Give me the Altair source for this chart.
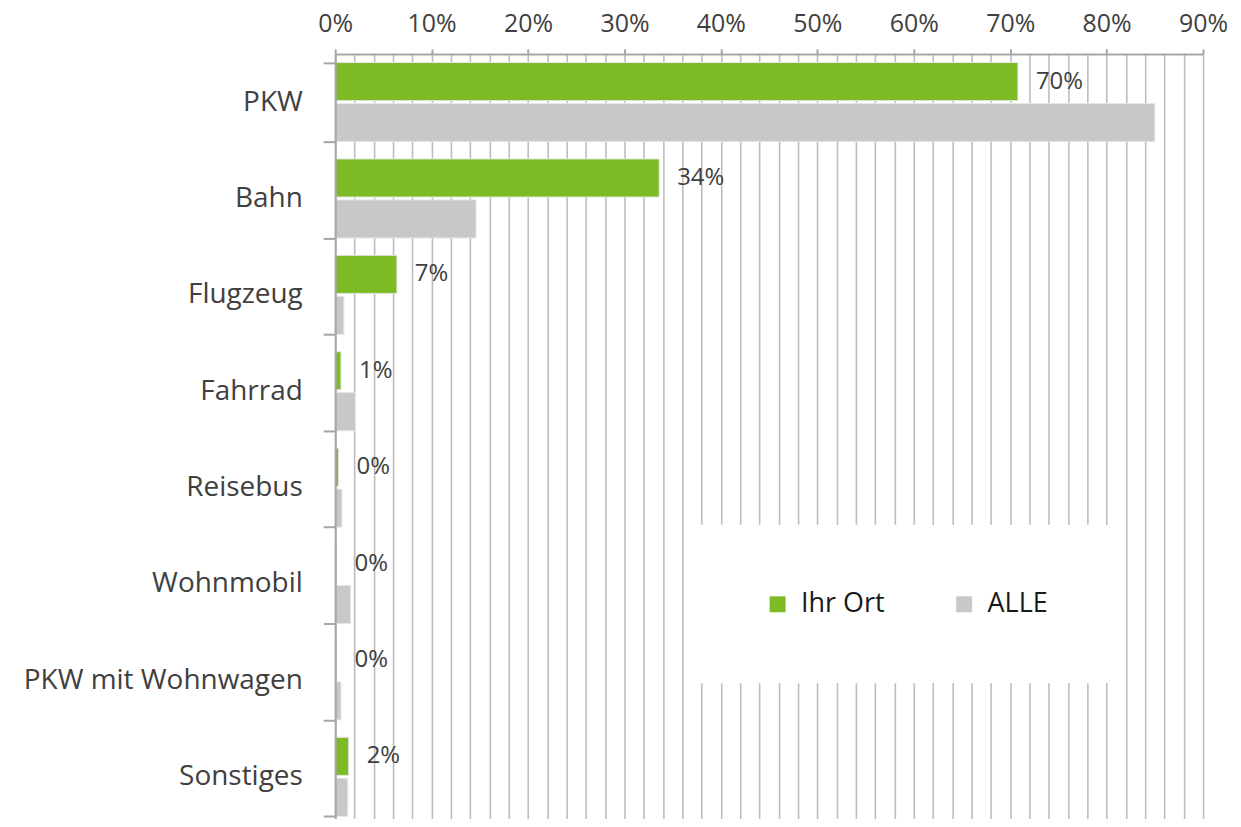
import altair as alt
import pandas as pd

categories = ["PKW", "Bahn", "Flugzeug", "Fahrrad", "Reisebus", "Wohnmobil",
              "PKW mit Wohnwagen", "Sonstiges"]
series = ["Ihr Ort", "ALLE"]
ihr_ort = [0.708, 0.336, 0.064, 0.006, 0.0035, 0.0015, 0.0015, 0.014]
alle = [0.85, 0.146, 0.009, 0.021, 0.007, 0.016, 0.006, 0.013]
ihr_ort_labels = ["70%", "34%", "7%", "1%", "0%", "0%", "0%", "2%"]
grid_steps = [round(i * 0.02, 2) for i in range(46)]
colors = ["#7CBB23", "#C8C8C8"]

rows = []
for c, a, b in zip(categories, ihr_ort, alle):
    rows.append({"cat": c, "series": series[0], "value": a})
    rows.append({"cat": c, "series": series[1], "value": b})
df = pd.DataFrame(rows)
lab = pd.DataFrame({"cat": categories, "series": series[0], "value": ihr_ort,
                    "label": ihr_ort_labels})

FONT = "Open Sans"
TEN = "round(datum.value*100) % 10 == 0"

y_enc = alt.Y("cat:N", sort=categories,
              scale=alt.Scale(paddingInner=0.18, paddingOuter=0.09),
              axis=alt.Axis(title=None, labelFontSize=28, labelColor="#404040",
                            labelFont=FONT, labelLimit=500, tickBand="extent",
                            tickSize=12, labelPadding=21, domainColor="#A6A6A6",
                            domainWidth=2, tickColor="#A6A6A6", tickWidth=2,
                            zindex=1))
x_enc = alt.X("value:Q", scale=alt.Scale(domain=[0, 0.9], nice=False, zero=True),
              axis=alt.Axis(title=None, orient="top", values=grid_steps,
                            tickCount=200,
                            format=".0%", labelFontSize=25, labelColor="#404040",
                            labelFont=FONT, labelOverlap=False, labelFlush=False,
                            labelExpr=TEN + " ? datum.label : ''",
                            tickSize=5, labelPadding=12,
                            tickOpacity={"condition": {"test": TEN, "value": 1}, "value": 0},
                            tickColor="#A6A6A6", tickWidth=2,
                            domainColor="#A6A6A6", domainWidth=2,
                            grid=True, gridColor="#BDBDBD", gridWidth=1.6))
yoff = alt.YOffset("series:N", sort=series, scale=alt.Scale(paddingInner=0.07))

bars = alt.Chart(df).mark_bar(stroke="#E6E6E6", strokeWidth=1).encode(
    y=y_enc, x=x_enc, yOffset=yoff,
    color=alt.Color("series:N", sort=series,
                    scale=alt.Scale(domain=series, range=colors),
                    legend=alt.Legend(title=None, orient="none", direction="horizontal",
                                      legendX=364, legendY=472, padding=66,
                                      fillColor="white", symbolType="square",
                                      symbolSize=256, symbolStrokeWidth=0,
                                      labelFontSize=27, labelFont=FONT,
                                      labelColor="#1a1a1a", labelOffset=10,
                                      columnPadding=66)),
)

text = alt.Chart(lab).mark_text(align="left", baseline="middle", dx=18,
                                fontSize=24, font=FONT, color="#404040").encode(
    y=alt.Y("cat:N", sort=categories), x=alt.X("value:Q"),
    yOffset=alt.YOffset("series:N", sort=series), text="label:N")

chart = alt.layer(bars, text).properties(
    width=870, height=773,
    autosize=alt.AutoSizeParams(type="none"),
    padding={"left": 328, "top": 45, "right": 30, "bottom": -7},
).configure_view(stroke=None)

chart.save("out.html", embed_options={"renderer": "svg", "actions": False})
